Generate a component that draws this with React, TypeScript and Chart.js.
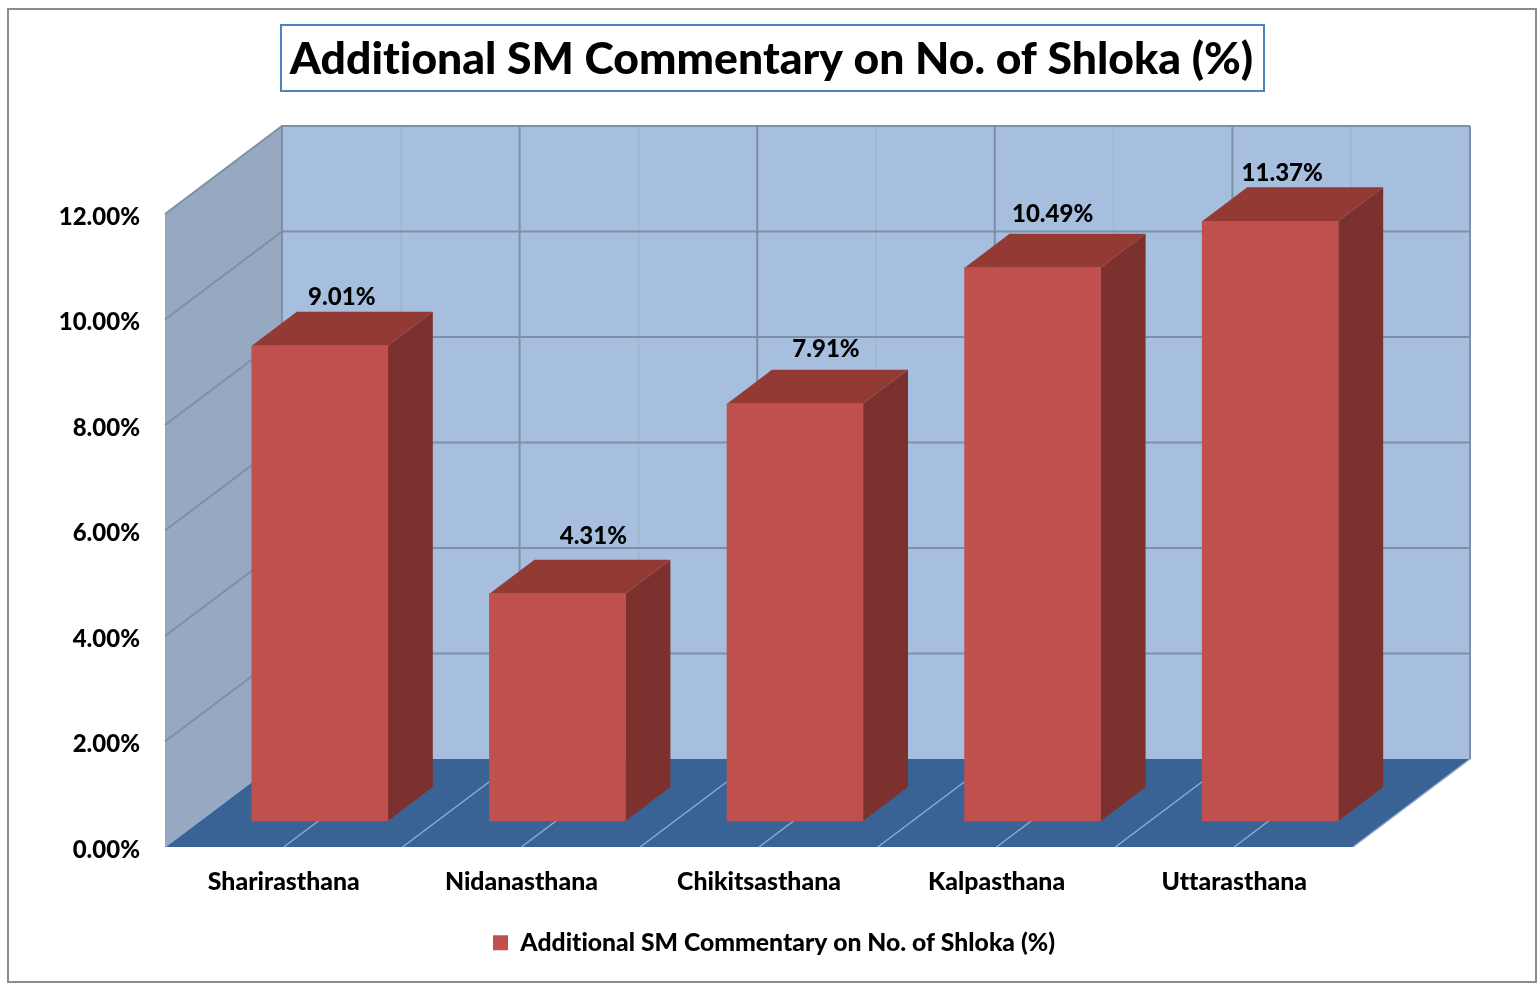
import React, { useEffect, useRef } from "react";
import { Chart, registerables } from "chart.js";

Chart.register(...registerables);

const categories = ["Sharirasthana", "Nidanasthana", "Chikitsasthana", "Kalpasthana", "Uttarasthana"];
const seriesName = "Additional SM Commentary on No. of Shloka (%)";
const values = [9.01, 4.31, 7.91, 10.49, 11.37];
const valueLabels = ["9.01%", "4.31%", "7.91%", "10.49%", "11.37%"];
const FONT = "Lato";

// 3D projection constants (px)
const WALL_DX = 117;
const WALL_DY = 88;
const BAR_DX = 36;
const BAR_DY = 26;
const FACE_DX = 45;
const FACE_DY = 34;
const labelNudgeX = [22, 36, 31, 20, 12];
const labelNudgeY = [-48, -57, -54, -53, -48];

const scene3d = {
  id: "scene3d",
  afterLayout(chart: any) {
    const t = chart.titleBlock;
    if (t) { t.left = 771.5 - 700; t.right = 771.5 + 700; }
    const l = chart.legend;
    if (l) {
      l.left = 774 - 600; l.right = 774 + 600;
      l.top = 942 - 12.5 - 10 + 1;
      l.bottom = l.top + l.height;
    }
  },
  beforeDraw(chart: any) {
    const c = chart.ctx;
    const yS = chart.scales.y;
    c.letterSpacing = "0.01px";
    yS.getLabelItems(chart.chartArea);
    yS._labelItems.forEach((it: any) => { it.options.translation[1] += 3; });
    c.save();
    c.strokeStyle = "#8c8c8c";
    c.lineWidth = 2;
    c.strokeRect(8, 9, 1528, 973);
    c.strokeStyle = "#4f81bd";
    c.lineWidth = 2;
    c.strokeRect(281, 25, 983, 66);
    c.restore();
  },
  beforeDatasetsDraw(chart: any) {
    const c = chart.ctx;
    const { left, right, top, bottom } = chart.chartArea;
    const yS = chart.scales.y;
    c.save();
    // back wall
    c.fillStyle = "#a6bfde";
    c.fillRect(left + WALL_DX, top - WALL_DY, right - left, bottom - top);
    // left wall
    c.fillStyle = "#96a9c0";
    c.beginPath();
    c.moveTo(left, top);
    c.lineTo(left + WALL_DX, top - WALL_DY);
    c.lineTo(left + WALL_DX, bottom - WALL_DY);
    c.lineTo(left, bottom);
    c.closePath();
    c.fill();
    // floor
    c.fillStyle = "#396394";
    c.beginPath();
    c.moveTo(left, bottom);
    c.lineTo(left + WALL_DX, bottom - WALL_DY);
    c.lineTo(right + WALL_DX, bottom - WALL_DY);
    c.lineTo(right, bottom);
    c.closePath();
    c.fill();

    // wall grid from category scale
    const n = categories.length;
    const step = (right - left) / n;
    for (let k = 0; k <= 2 * n; k++) {
      const x = left + (k * step) / 2 + WALL_DX;
      c.strokeStyle = k % 2 === 0 ? "#7d90a6" : "#9fb8d0";
      c.lineWidth = 2;
      c.beginPath();
      c.moveTo(x, top - WALL_DY);
      c.lineTo(x, bottom - WALL_DY);
      c.stroke();
      // floor lines
      c.strokeStyle = "#8fadd0";
      c.lineWidth = 1.5;
      c.beginPath();
      c.moveTo(x - WALL_DX, bottom);
      c.lineTo(x, bottom - WALL_DY);
      c.stroke();
    }
    // value grid from value scale
    yS.ticks.forEach((tk: any) => {
      const y = yS.getPixelForValue(tk.value);
      if (tk.value === 0) return;
      c.strokeStyle = "#7d90a6";
      c.lineWidth = 2;
      c.beginPath();
      c.moveTo(left, y);
      c.lineTo(left + WALL_DX, y - WALL_DY);
      c.lineTo(right + WALL_DX, y - WALL_DY);
      c.stroke();
    });
    c.restore();
  },
  beforeDatasetDraw(chart: any) {
    const c = chart.ctx;
    c.save();
    c.translate(BAR_DX, -BAR_DY);
    chart.getDatasetMeta(0).data.forEach((b: any) => {
      const l = b.x - b.width / 2;
      const r = b.x + b.width / 2;
      // right side face
      c.fillStyle = "#7d312f";
      c.beginPath();
      c.moveTo(r, b.y);
      c.lineTo(r + FACE_DX, b.y - FACE_DY);
      c.lineTo(r + FACE_DX, b.base - FACE_DY);
      c.lineTo(r, b.base);
      c.closePath();
      c.fill();
      // top face
      c.fillStyle = "#943a35";
      c.beginPath();
      c.moveTo(l, b.y);
      c.lineTo(l + FACE_DX, b.y - FACE_DY);
      c.lineTo(r + FACE_DX, b.y - FACE_DY);
      c.lineTo(r, b.y);
      c.closePath();
      c.fill();
    });
  },
  afterDatasetDraw(chart: any) {
    chart.ctx.restore();
  },
  afterDatasetsDraw(chart: any) {
    const c = chart.ctx;
    c.save();
    c.fillStyle = "#000";
    c.font = `900 24px ${FONT}`;
    c.textAlign = "center";
    c.textBaseline = "middle";
    chart.getDatasetMeta(0).data.forEach((b: any, i: number) => {
      c.fillText(valueLabels[i], b.x + BAR_DX + labelNudgeX[i], b.y - BAR_DY + labelNudgeY[i]);
    });
    c.restore();
  },
};

export default function App() {
  const ref = useRef<HTMLCanvasElement | null>(null);
  useEffect(() => {
    document.body.style.margin = "0";
    const chart = new Chart(ref.current as HTMLCanvasElement, {
      type: "bar",
      data: {
        labels: categories,
        datasets: [
          {
            label: seriesName,
            data: values,
            backgroundColor: "#c0504d",
            barThickness: 136,
            clip: false,
          } as any,
        ],
      },
      options: {
        animation: false,
        responsive: false,
        layout: { padding: { left: 0, right: 184, top: 0, bottom: 1 } },
        plugins: {
          title: {
            display: true,
            text: seriesName,
            color: "#000",
            font: { family: FONT, size: 44.5, weight: 900, lineHeight: 1.2 },
            padding: { top: 33, bottom: 214 - 33 - 53.4 },
          },
          legend: {
            display: true,
            position: "bottom",
            labels: {
              color: "#000",
              boxWidth: 15,
              boxHeight: 15,
              padding: 10,
              font: { family: FONT, size: 24.7, weight: 900 },
            },
          },
          tooltip: { enabled: false },
        },
        scales: {
          x: {
            offset: true,
            grid: { display: false, drawTicks: false },
            border: { display: false },
            ticks: {
              color: "#000",
              padding: 20,
              maxRotation: 0,
              font: { family: FONT, size: 24.8, weight: 900 },
            },
            afterFit(axis: any) {
              axis.height = 136 - 1 - (axis.chart.legend ? axis.chart.legend.height : 0);
            },
          },
          y: {
            min: 0,
            max: 12,
            grid: { display: false, drawTicks: false },
            border: { display: false },
            ticks: {
              color: "#000",
              stepSize: 2,
              padding: 25,
              font: { family: FONT, size: 24, weight: 900 },
              callback: (v: any) => Number(v).toFixed(2) + "%",
            },
            afterFit(axis: any) {
              axis.width = 165;
            },
          },
        },
      },
      plugins: [scene3d],
    } as any);
    return () => chart.destroy();
  }, []);
  return <canvas ref={ref} width={1537} height={983} style={{ display: "block" }} />;
}
